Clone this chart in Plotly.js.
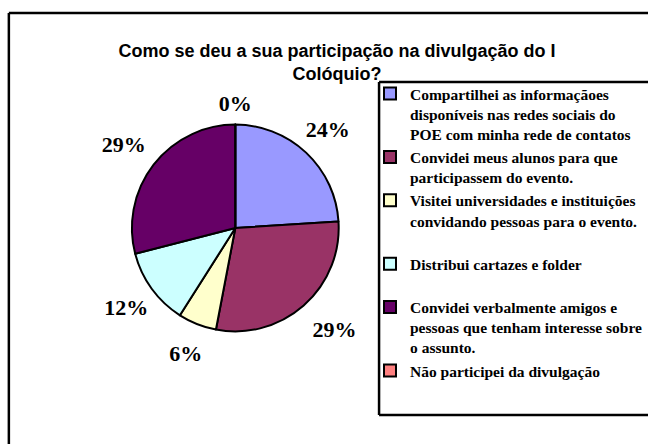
<!DOCTYPE html>
<html>
<head>
<meta charset="utf-8">
<script src="https://cdn.plot.ly/plotly-3.0.1.min.js"></script>
<style>
  html, body { margin: 0; padding: 0; background: #fff; overflow: hidden; }
  #chart { width: 648px; height: 444px; }
</style>
</head>
<body>
<div id="chart"></div>
<script>
// ---- Data ----
const titleText = "Como se deu a sua participação na divulgação do I<br>Colóquio?";
const categories = [
  "Compartilhei as informaçãoes<br>disponíveis nas redes sociais do<br>POE com minha rede de contatos",
  "Convidei meus alunos para que<br>participassem do evento.",
  "Visitei universidades e instituições<br>convidando pessoas para o evento.",
  "Distribui cartazes e folder",
  "Convidei verbalmente amigos e<br>pessoas que tenham interesse sobre<br>o assunto.",
  "Não participei da divulgação"
];
const percentages = [24, 29, 6, 12, 29, 0];
const colors = ["#9999FF", "#993366", "#FFFFCC", "#CCFFFF", "#660066", "#FF8080"];

// ---- Layout helpers ----
const W = 648, H = 444;
const px = x => x / W;
const py = y => 1 - y / H;

// pad legend entries so the items spread like the original
const slotLines = [3, 2, 3, 2, 3, 1];
const legendLabels = categories.map((c, i) => {
  let n = c.split("<br>").length;
  let s = c;
  while (n < slotLines[i]) { s += "<br> "; n++; }
  return s;
});

const serif = "Times New Roman, Liberation Serif, serif";
const labelTexts = percentages.map(v => v + "%");
const labelFont = { family: serif, size: 22, color: "#000000", weight: "bold" };

// pie geometry (pixels)
const cx = 239, cy = 228, r = 105;

function dom(rad) {
  return { x: [px(cx - rad), px(cx + rad)], y: [py(cy + rad), py(cy - rad)] };
}

const pie = {
  type: "pie",
  labels: legendLabels,
  values: percentages,
  sort: false,
  direction: "clockwise",
  rotation: 0,
  marker: { colors: colors, line: { color: "#000000", width: 2 } },
  textinfo: "none",
  hoverinfo: "label+percent",
  domain: dom(r),
  showlegend: true
};

// transparent companion pies that carry the data labels around the pie
function labelPie(rad, mode, which, opts) {
  const t = {
    type: "pie",
    labels: legendLabels,
    values: percentages,
    sort: false,
    direction: "clockwise",
    rotation: 0,
    marker: { colors: colors.map(() => "rgba(0,0,0,0)"), line: { width: 0 } },
    textinfo: "text",
    text: labelTexts.map((s, i) => opts.pad && opts.pad[i] ? opts.pad[i](s) : s),
    textposition: percentages.map((v, i) => which.includes(i) ? mode : "none"),
    hoverinfo: "skip",
    domain: dom(rad),
    showlegend: false
  };
  if (mode === "inside") {
    t.hole = opts.hole;
    t.insidetextorientation = "horizontal";
    t.insidetextfont = labelFont;
  } else {
    t.outsidetextfont = labelFont;
  }
  return t;
}

const padAbove = s => "\u00a0<br>" + s;
const padBelow = s => s + "<br>\u00a0";

const ringA = labelPie(138, "inside", [0, 2, 3], { hole: 1 - 2 / 138 });
const ringB = labelPie(126, "inside", [5], { hole: 1 - 2 / 126 });
const outer = labelPie(98, "outside", [1, 4], { pad: { 1: padAbove, 4: padBelow } });

const lineStyle = { color: "#000000", width: 2.5 };
const layout = {
  width: W, height: H,
  margin: { l: 0, r: 0, t: 0, b: 0 },
  paper_bgcolor: "#ffffff",
  uniformtext: { mode: "show", minsize: 22 },
  title: {
    text: titleText,
    font: { family: "Arial, Liberation Sans, sans-serif", size: 18, color: "#000000", weight: "bold" },
    x: px(337), xanchor: "center",
    y: py(57), yanchor: "top", yref: "paper"
  },
  showlegend: true,
  legend: {
    x: px(376), xanchor: "left",
    y: py(77), yanchor: "top",
    bgcolor: "rgba(0,0,0,0)",
    borderwidth: 0,
    valign: "top",
    traceorder: "normal",
    font: { family: serif, size: 15.5, color: "#000000", weight: "bold" }
  },
  shapes: [
    // outer chart-area frame (left and top edges visible)
    { type: "line", xref: "paper", yref: "paper", x0: px(9), x1: 1.2, y0: py(13), y1: py(13), line: lineStyle },
    { type: "line", xref: "paper", yref: "paper", x0: px(9), x1: px(9), y0: py(13), y1: -0.2, line: lineStyle },
    // legend box (left, top, bottom edges; right edge beyond the picture)
    { type: "line", xref: "paper", yref: "paper", x0: px(385), x1: 1.2, y0: py(82), y1: py(82), line: lineStyle },
    { type: "line", xref: "paper", yref: "paper", x0: px(385), x1: 1.2, y0: py(415), y1: py(415), line: lineStyle },
    { type: "line", xref: "paper", yref: "paper", x0: px(385), x1: px(385), y0: py(82), y1: py(415), line: lineStyle }
  ]
};

Plotly.newPlot("chart", [ringA, ringB, outer, pie], layout, { displayModeBar: false, staticPlot: true });
</script>
</body>
</html>
